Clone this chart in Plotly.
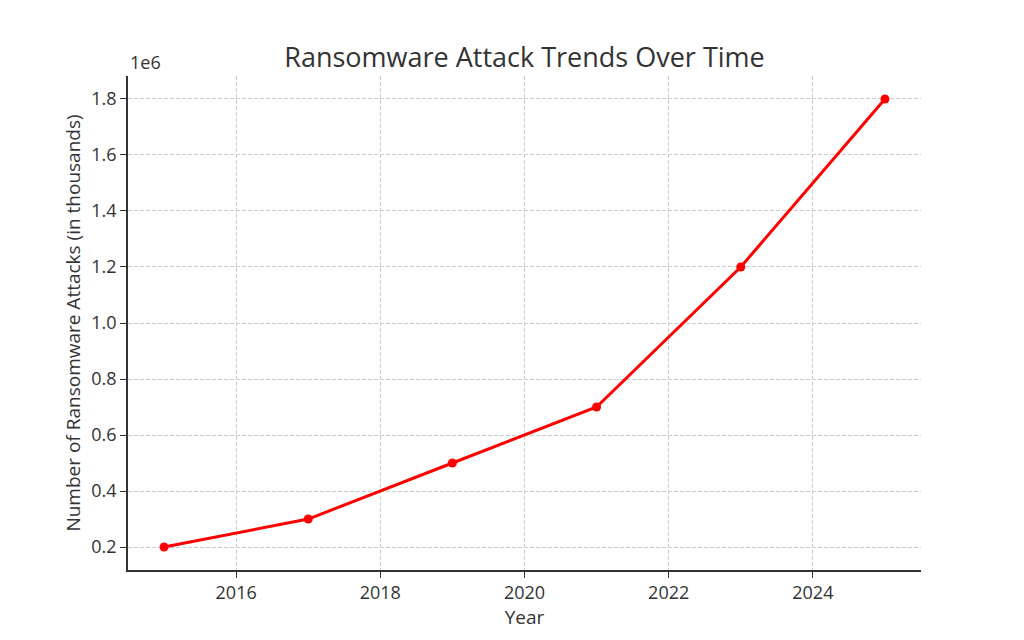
import plotly.graph_objects as go

years = [2015, 2017, 2019, 2021, 2023, 2025]
attacks = [200000, 300000, 500000, 700000, 1200000, 1800000]

font = "Open Sans"
txt = "#333333"

fig = go.Figure()
fig.add_trace(go.Scatter(
    x=years, y=[a / 1e6 for a in attacks], mode="lines+markers",
    line=dict(color="#ff0000", width=3), marker=dict(color="#ff0000", size=9),
))

axis_common = dict(
    showgrid=True, gridcolor="#cccccc", griddash="4px,2px", gridwidth=1,
    showline=True, linecolor="#333333", linewidth=1.5,
    ticks="outside", ticklen=6, tickcolor="#333333",
    tickfont=dict(size=18, color=txt, family=font),
    zeroline=False, mirror=False,
)
fig.update_xaxes(axis_common, range=[2014.5, 2025.5], tickvals=[2016, 2018, 2020, 2022, 2024],
                 title=dict(text="Year", font=dict(size=19, color=txt, family=font), standoff=4))
fig.update_yaxes(axis_common, range=[0.118, 1.882], tickvals=[0.2, 0.4, 0.6, 0.8, 1.0, 1.2, 1.4, 1.6, 1.8],
                 tickformat=".1f",
                 title=dict(text="Number of Ransomware Attacks (in thousands)",
                            font=dict(size=19, color=txt, family=font), standoff=6))

fig.add_annotation(text="1e6", xref="paper", yref="paper", x=0, y=1, xanchor="left", yanchor="bottom",
                   showarrow=False, font=dict(size=18, color=txt, family=font))

fig.update_layout(
    width=1024, height=640,
    margin=dict(l=120, r=111, t=68, b=78),
    paper_bgcolor="white", plot_bgcolor="white",
    showlegend=False,
    title=dict(text="Ransomware Attack Trends Over Time", x=0.5, xref="paper", y=0.923, yanchor="middle",
               font=dict(size=27, color=txt, family=font)),
)

fig.write_html("out.html")
